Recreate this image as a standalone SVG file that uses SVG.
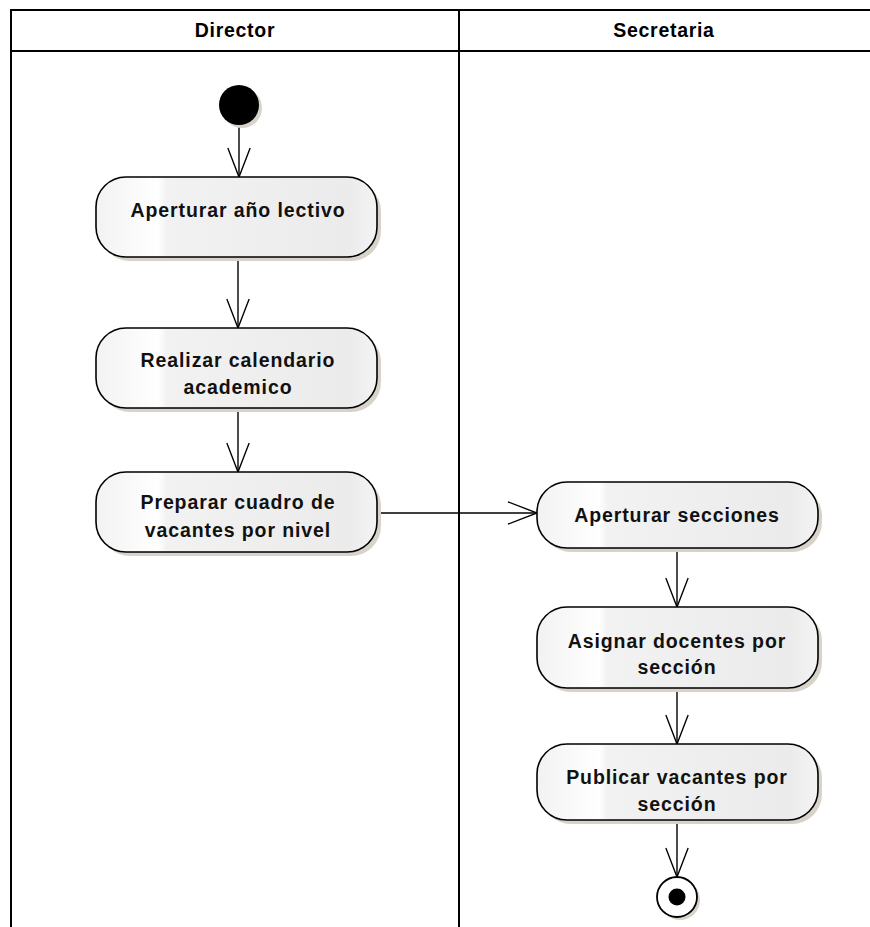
<svg xmlns="http://www.w3.org/2000/svg" width="870" height="927" viewBox="0 0 870 927">
<style>
.lane{fill:none;stroke:#000;stroke-width:2}
.hdr{font-family:"Liberation Sans",Arial,sans-serif;font-size:19.5px;font-weight:bold;fill:#000;text-anchor:middle;letter-spacing:0.7px}
.act{fill:url(#g);stroke:#000;stroke-width:1.6}
.sh{fill:#d8d3ca}
.lbl{font-family:"Liberation Sans",Arial,sans-serif;font-size:19.5px;font-weight:bold;fill:#111;text-anchor:middle;letter-spacing:0.9px}
.edge{fill:none;stroke:#000;stroke-width:1.4}
</style>
<defs>
<linearGradient id="g" x1="0" y1="0" x2="1" y2="0">
<stop offset="0" stop-color="#f2f2f2"/>
<stop offset="0.22" stop-color="#ffffff"/>
<stop offset="0.25" stop-color="#f2f2f2"/>
<stop offset="0.9" stop-color="#ebebeb"/>
<stop offset="1" stop-color="#f4f4f4"/>
</linearGradient>
<marker id="arr" markerWidth="32" markerHeight="28" viewBox="-31 -13 33 26" refX="0" refY="0" orient="auto" markerUnits="userSpaceOnUse">
<path d="M-30,-11.5 L0,0 L-30,11.5" fill="none" stroke="#000" stroke-width="1.4"/>
</marker>
</defs>
<rect width="870" height="927" fill="#fff"/>
<g id="lanes">
<line class="lane" x1="10" y1="10" x2="870" y2="10"/>
<line class="lane" x1="10" y1="51" x2="870" y2="51"/>
<line class="lane" x1="11" y1="10" x2="11" y2="927"/>
<line class="lane" x1="459" y1="10" x2="459" y2="927"/>
<text class="hdr" x="235" y="37">Director</text>
<text class="hdr" x="664" y="37">Secretaria</text>
</g>
<g id="edges">
<line class="edge" x1="239" y1="125" x2="239" y2="177" marker-end="url(#arr)"/>
<line class="edge" x1="238" y1="257" x2="238" y2="328" marker-end="url(#arr)"/>
<line class="edge" x1="238" y1="408" x2="238" y2="472" marker-end="url(#arr)"/>
<line class="edge" x1="378" y1="513" x2="537" y2="513" marker-end="url(#arr)"/>
<line class="edge" x1="677" y1="548" x2="677" y2="607" marker-end="url(#arr)"/>
<line class="edge" x1="677" y1="688" x2="677" y2="744" marker-end="url(#arr)"/>
<line class="edge" x1="677" y1="820" x2="677" y2="877" marker-end="url(#arr)"/>
</g>
<g id="start">
<circle class="sh" cx="242" cy="108" r="20"/>
<circle cx="239" cy="105" r="20" fill="#000"/>
</g>
<g id="n1">
<rect class="sh" x="100" y="181" width="281" height="80" rx="30"/>
<rect class="act" x="96" y="177" width="281" height="80" rx="30"/>
<text class="lbl" x="238" y="217">Aperturar año lectivo</text>
</g>
<g id="n2">
<rect class="sh" x="100" y="332" width="281" height="80" rx="30"/>
<rect class="act" x="96" y="328" width="281" height="80" rx="30"/>
<text class="lbl" x="238" y="367">Realizar calendario</text>
<text class="lbl" x="238" y="394">academico</text>
</g>
<g id="n3">
<rect class="sh" x="100" y="476" width="281" height="80" rx="30"/>
<rect class="act" x="96" y="472" width="281" height="80" rx="30"/>
<text class="lbl" x="238" y="509">Preparar cuadro de</text>
<text class="lbl" x="238" y="537">vacantes por nivel</text>
</g>
<g id="n4">
<rect class="sh" x="541" y="486" width="281" height="66" rx="30"/>
<rect class="act" x="537" y="482" width="281" height="66" rx="30"/>
<text class="lbl" x="677" y="522">Aperturar secciones</text>
</g>
<g id="n5">
<rect class="sh" x="541" y="611" width="281" height="81" rx="30"/>
<rect class="act" x="537" y="607" width="281" height="81" rx="30"/>
<text class="lbl" x="677" y="648">Asignar docentes por</text>
<text class="lbl" x="677" y="674">sección</text>
</g>
<g id="n6">
<rect class="sh" x="541" y="748" width="281" height="76" rx="30"/>
<rect class="act" x="537" y="744" width="281" height="76" rx="30"/>
<text class="lbl" x="677" y="784">Publicar vacantes por</text>
<text class="lbl" x="677" y="811">sección</text>
</g>
<g id="end">
<circle class="sh" cx="680" cy="900" r="20"/>
<circle cx="677" cy="897" r="20" fill="#fff" stroke="#000" stroke-width="1.8"/>
<circle cx="677" cy="897" r="8.5" fill="#000"/>
</g>
</svg>
